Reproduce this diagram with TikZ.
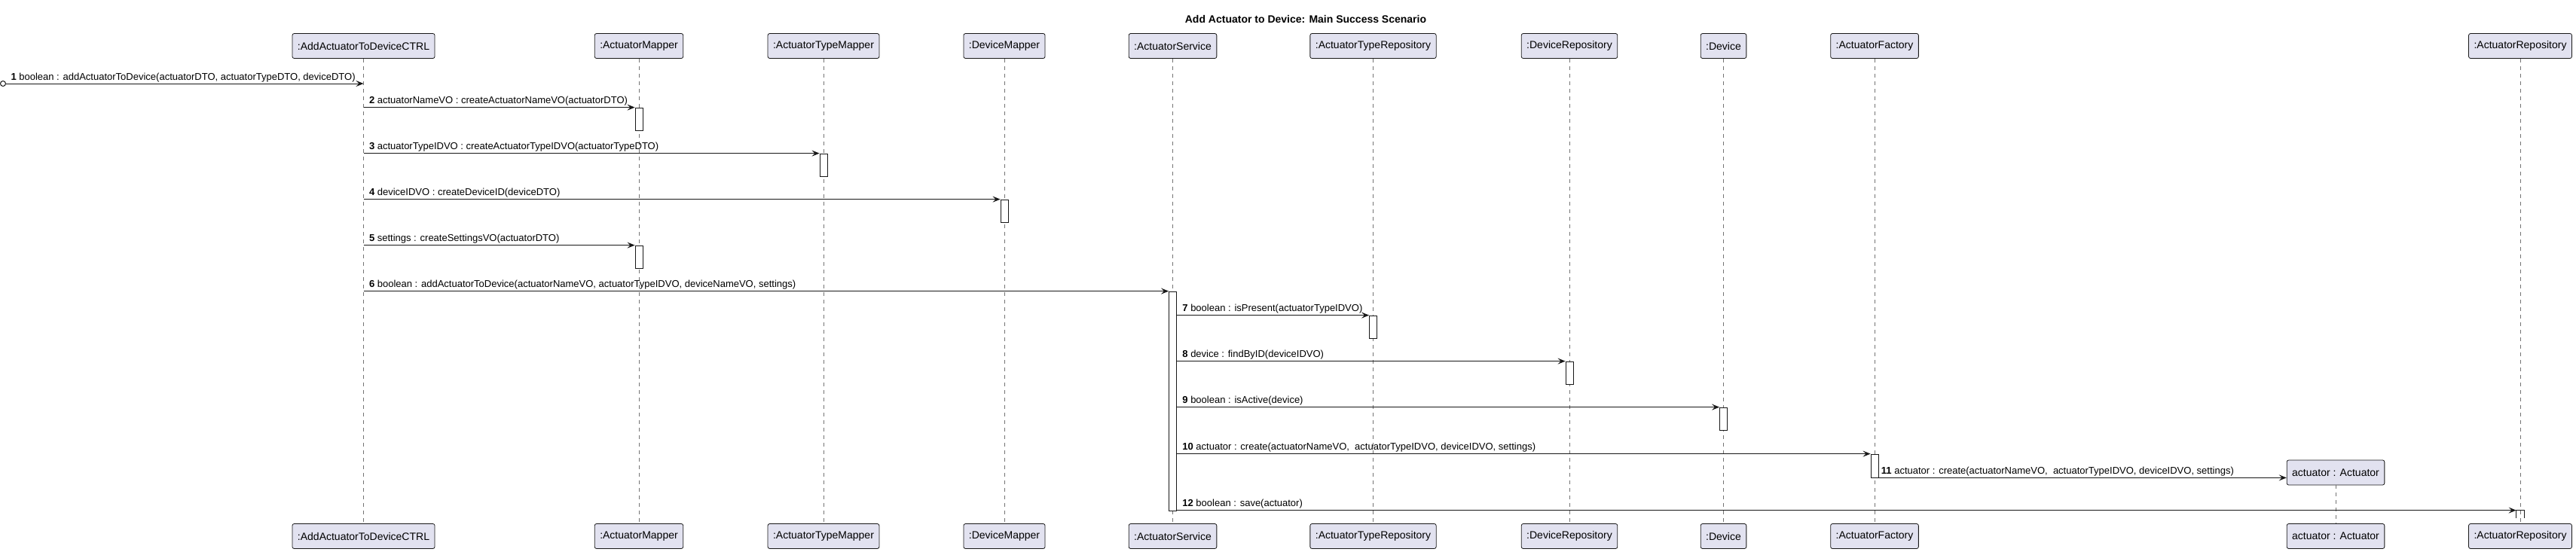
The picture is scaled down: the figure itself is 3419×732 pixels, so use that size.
\documentclass[tikz,border=0pt]{standalone}
\usepackage{fontspec}
\setmainfont{Liberation Sans}
\usetikzlibrary{arrows.meta}
\usetikzlibrary{calc}
\usetikzlibrary{positioning}

\definecolor{umlline}{HTML}{181818}
\definecolor{umlfill}{HTML}{E2E2F0}

\tikzset{
  part/.style={draw=umlline, fill=umlfill, line width=0.8pt, rounded corners=2.5pt, minimum height=33pt, inner xsep=7pt, font=\fontsize{14}{16}\selectfont},
  life/.style={draw=umlline!60, line width=0.6pt, dash pattern=on 5pt off 5pt},
  actbar/.style={draw=umlline, fill=white, line width=0.8pt, minimum width=10pt, inner sep=0pt},
  msg/.style={draw=umlline, line width=1pt, -{Stealth[length=10pt,width=8pt,inset=4pt]}},
  lbl/.style={anchor=base west, inner sep=0pt, xshift=7pt, yshift=5pt, font=\fontsize{13}{15}\selectfont},
}

\begin{document}
\begin{tikzpicture}[x=1pt,y=-1pt]
	\useasboundingbox (0,0) rectangle (3419,732);
	\node[font=\fontsize{14}{16}\selectfont\bfseries] (title) at (1733,25) {Add Actuator to Device: Main Success Scenario};

	\path
	(482.5,61) node[part] (ctrl) {:AddActuatorToDeviceCTRL}
	(848,61) node[part] (amap) {:ActuatorMapper}
	(1093,61) node[part] (atmap) {:ActuatorTypeMapper}
	(1333,61) node[part] (dmap) {:DeviceMapper}
	(1556.5,61) node[part] (aserv) {:ActuatorService}
	(1822.5,61) node[part] (atrepo) {:ActuatorTypeRepository}
	(2083,61) node[part] (drepo) {:DeviceRepository}
	(2287.5,61) node[part] (dev) {:Device}
	(2488,61) node[part] (afact) {:ActuatorFactory}
	(3345,61) node[part] (arepo) {:ActuatorRepository}
	(3100,627.5) node[part] (act) {actuator : Actuator};

	\path
	(482.5,712) node[part] (ctrlB) {:AddActuatorToDeviceCTRL}
	(848,712) node[part] (amapB) {:ActuatorMapper}
	(1093,712) node[part] (atmapB) {:ActuatorTypeMapper}
	(1333,712) node[part] (dmapB) {:DeviceMapper}
	(1556.5,712) node[part] (aservB) {:ActuatorService}
	(1822.5,712) node[part] (atrepoB) {:ActuatorTypeRepository}
	(2083,712) node[part] (drepoB) {:DeviceRepository}
	(2287.5,712) node[part] (devB) {:Device}
	(2488,712) node[part] (afactB) {:ActuatorFactory}
	(3345,712) node[part] (arepoB) {:ActuatorRepository}
	(3100,712) node[part] (actB) {actuator : Actuator};

	\foreach \p in {ctrl,amap,atmap,dmap,aserv,atrepo,drepo,dev,afact,arepo,act}
		\draw[life] (\p) -- (\p B);

	\path
	(amap |- 0,158) node[actbar, minimum height=30pt] (a2) {}
	(atmap |- 0,219) node[actbar, minimum height=30pt] (a3) {}
	(dmap |- 0,280) node[actbar, minimum height=30pt] (a4) {}
	(amap |- 0,341) node[actbar, minimum height=30pt] (a5) {}
	(aserv |- 0,532.5) node[actbar, minimum height=291pt] (a6) {}
	(atrepo |- 0,434) node[actbar, minimum height=30pt] (a7) {}
	(drepo |- 0,495) node[actbar, minimum height=30pt] (a8) {}
	(dev |- 0,556) node[actbar, minimum height=30pt] (a9) {}
	(afact |- 0,618.5) node[actbar, minimum height=31pt] (a10) {}
	(arepo |- 0,683) node[actbar, draw=none, fill=none, minimum height=10pt] (a12) {};
	\draw[umlline, line width=0.8pt] (a12.south west) -- (a12.north west) -- (a12.north east) -- (a12.south east);

	\node[draw=umlline, fill=white, circle, line width=1pt, minimum size=7pt, inner sep=0pt] (start) at (4,111) {};

	\draw[msg] (start) -- (ctrl |- start) node[lbl, pos=0, xshift=-1pt] {\textbf{1} boolean : addActuatorToDevice(actuatorDTO, actuatorTypeDTO, deviceDTO)};
	\draw[msg] (ctrl |- a2.north) -- (a2.north west) node[lbl, pos=0] {\textbf{2} actuatorNameVO : createActuatorNameVO(actuatorDTO)};
	\draw[msg] (ctrl |- a3.north) -- (a3.north west) node[lbl, pos=0] {\textbf{3} actuatorTypeIDVO : createActuatorTypeIDVO(actuatorTypeDTO)};
	\draw[msg] (ctrl |- a4.north) -- (a4.north west) node[lbl, pos=0] {\textbf{4} deviceIDVO : createDeviceID(deviceDTO)};
	\draw[msg] (ctrl |- a5.north) -- (a5.north west) node[lbl, pos=0] {\textbf{5} settings : createSettingsVO(actuatorDTO)};
	\draw[msg] (ctrl |- a6.north) -- (a6.north west) node[lbl, pos=0] {\textbf{6} boolean : addActuatorToDevice(actuatorNameVO, actuatorTypeIDVO, deviceNameVO, settings)};
	\draw[msg] (a6.east |- a7.north) -- (a7.north west) node[lbl, pos=0] {\textbf{7} boolean : isPresent(actuatorTypeIDVO)};
	\draw[msg] (a6.east |- a8.north) -- (a8.north west) node[lbl, pos=0] {\textbf{8} device : findByID(deviceIDVO)};
	\draw[msg] (a6.east |- a9.north) -- (a9.north west) node[lbl, pos=0] {\textbf{9} boolean : isActive(device)};
	\draw[msg] (a6.east |- a10.north) -- (a10.north west) node[lbl, pos=0] {\textbf{10} actuator : create(actuatorNameVO,\ \ actuatorTypeIDVO, deviceIDVO, settings)};
	\draw[msg] (a10.south east) -- (act.west |- a10.south) node[lbl, pos=0, xshift=-4pt] {\textbf{11} actuator : create(actuatorNameVO,\ \ actuatorTypeIDVO, deviceIDVO, settings)};
	\draw[msg] (a6.east |- a12.north) -- (a12.north west) node[lbl, pos=0] {\textbf{12} boolean : save(actuator)};
\end{tikzpicture}
\end{document}
